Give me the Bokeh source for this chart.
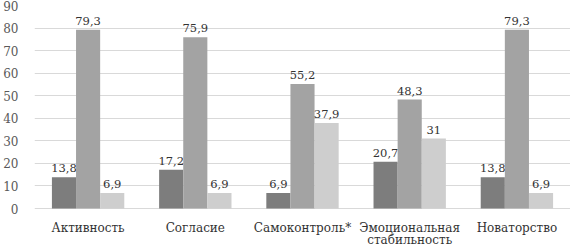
from bokeh.plotting import figure
from bokeh.models import ColumnDataSource, FactorRange, Range1d, FixedTicker
from bokeh.transform import dodge
from bokeh.core.properties import value
from bokeh.embed import file_html
from bokeh.resources import INLINE

categories = ["Активность", "Согласие", "Самоконтроль*", "Эмоциональная\nстабильность", "Новаторство"]
series_1 = [13.8, 17.2, 6.9, 20.7, 13.8]
series_2 = [79.3, 75.9, 55.2, 48.3, 79.3]
series_3 = [6.9, 6.9, 37.9, 31.0, 6.9]
y_ticks = [0, 10, 20, 30, 40, 50, 60, 70, 80, 90]

def fmt(v):
    s = ("%.1f" % v).replace(".", ",")
    return s[:-2] if s.endswith(",0") else s

src = ColumnDataSource(dict(
    cat=categories,
    zero=[0] * len(categories),
    s1=series_1, s2=series_2, s3=series_3,
    l1=[fmt(v) for v in series_1],
    l2=[fmt(v) for v in series_2],
    l3=[fmt(v) for v in series_3],
))

FONT = "DejaVu Serif"
TXT = "#333333"

# frame: top 5 px, 0-line at 208 px, canvas bottom at 247 px (room for category labels)
px_per_unit = 203 / 90.0
y_bottom = -39 / px_per_unit

p = figure(width=570, height=247, x_range=FactorRange(factors=categories, range_padding=0),
           y_range=Range1d(y_bottom, 90), output_backend="svg", toolbar_location=None,
           min_border_left=27, min_border_right=0, min_border_top=5, min_border_bottom=0)

p.outline_line_color = None
p.xgrid.grid_line_color = None
p.ygrid.grid_line_color = "#d9d9d9"
p.ygrid.grid_line_width = 1
p.xaxis.visible = False

colors = ["#7d7d7d", "#a3a3a3", "#cecece"]
offs = [-0.225, 0.0, 0.225]
for col, lab, c, o in zip(["s1", "s2", "s3"], ["l1", "l2", "l3"], colors, offs):
    p.vbar(x=dodge("cat", o, range=p.x_range), top=col, width=0.225, source=src,
           fill_color=c, line_color=None)
    p.text(x=dodge("cat", o, range=p.x_range), y=col, text=lab, source=src,
           text_align="center", text_baseline="alphabetic", y_offset=-9,
           text_font=value(FONT), text_font_size="11.5px", text_color=TXT)

# category labels below the zero line
p.text(x="cat", y="zero", text="cat", source=src, text_align="center",
       text_baseline="top", y_offset=12, text_line_height=0.9,
       text_font=value(FONT), text_font_size="12px", text_color=TXT)

ay = p.yaxis[0]
ay.ticker = FixedTicker(ticks=y_ticks)
ay.axis_line_color = None
ay.major_tick_line_color = None
ay.minor_tick_line_color = None
ay.major_label_standoff = 10
ay.major_label_text_font = FONT
ay.major_label_text_font_size = "12px"
ay.major_label_text_color = "#595959"

open("out.html", "w").write(file_html(p, INLINE))
